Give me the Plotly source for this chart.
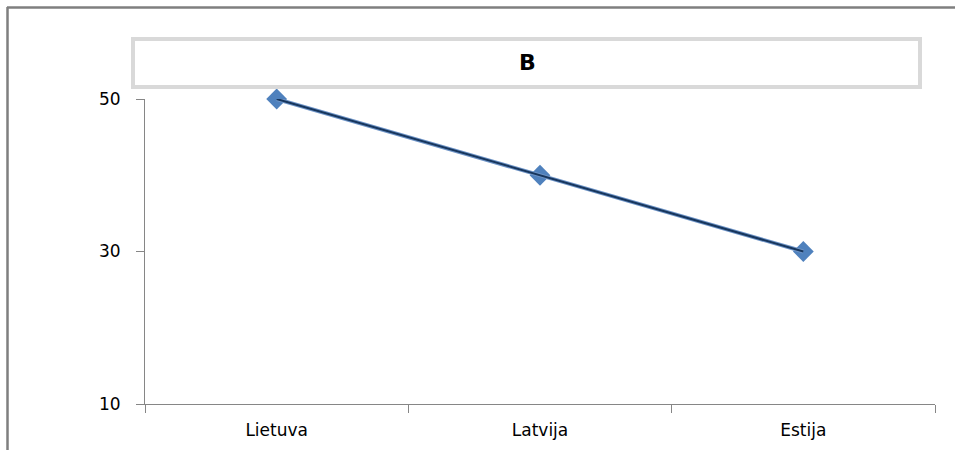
import plotly.graph_objects as go

# Data
countries = ["Lietuva", "Latvija", "Estija"]
values = [50, 40, 30]
y_ticks = [10, 30, 50]
chart_title = "B"

W, H = 955, 450
L, R, T, B = 145, 20, 99, 46
pw, ph = W - L - R, H - T - B


def px_x(p):
    return (p - L) / pw


def px_y(p):
    return (H - B - p) / ph


fig = go.Figure()

# Markers underneath the line
fig.add_trace(go.Scatter(
    x=countries, y=values, mode="markers",
    marker=dict(symbol="diamond", size=16, color="#4f81bd",
                line=dict(width=0)),
    cliponaxis=False, showlegend=False, hoverinfo="skip",
))
# Light outline of the line
fig.add_trace(go.Scatter(
    x=countries, y=values, mode="lines",
    line=dict(color="#6d93c6", width=4),
    cliponaxis=False, showlegend=False, hoverinfo="skip",
))
# Dark line on top
fig.add_trace(go.Scatter(
    x=countries, y=values, mode="lines",
    line=dict(color="#17365d", width=2),
    cliponaxis=False, showlegend=False,
))

axis_font = dict(family="DejaVu Sans, Verdana, sans-serif", size=17, color="#000000")

fig.update_layout(
    width=W, height=H,
    margin=dict(l=L, r=R, t=T, b=B),
    paper_bgcolor="white", plot_bgcolor="white",
    xaxis=dict(
        type="category", range=[-0.5, 2.5], automargin=False,
        showline=True, linecolor="#868686", linewidth=1,
        ticks="outside", tickson="boundaries", ticklen=8, tickcolor="#868686",
        showgrid=False, zeroline=False, tickfont=axis_font,
        ticklabelstandoff=11,
    ),
    yaxis=dict(
        range=[10, 50], tickvals=y_ticks, automargin=False,
        showline=True, linecolor="#868686", linewidth=1,
        ticks="outside", ticklen=8, tickcolor="#868686",
        showgrid=False, zeroline=False, tickfont=axis_font,
        ticklabelstandoff=12,
    ),
    shapes=[
        # outer frame (top and left edges)
        dict(type="line", xref="paper", yref="paper",
             x0=px_x(7), x1=px_x(960), y0=px_y(7.5), y1=px_y(7.5),
             line=dict(color="#7f7f7f", width=2.5)),
        dict(type="line", xref="paper", yref="paper",
             x0=px_x(7.5), x1=px_x(7.5), y0=px_y(7), y1=px_y(460),
             line=dict(color="#7f7f7f", width=2.5)),
        # title box
        dict(type="rect", xref="paper", yref="paper",
             x0=px_x(133), x1=px_x(920), y0=px_y(39), y1=px_y(87),
             line=dict(color="#d9d9d9", width=4), fillcolor="white"),
    ],
    annotations=[
        dict(text="<b>%s</b>" % chart_title, xref="paper", yref="paper",
             x=px_x(527), y=px_y(63), showarrow=False,
             xanchor="center", yanchor="middle",
             font=dict(family="DejaVu Sans, Verdana, sans-serif", size=22, color="#000000")),
    ],
)

fig.write_html("out.html")
